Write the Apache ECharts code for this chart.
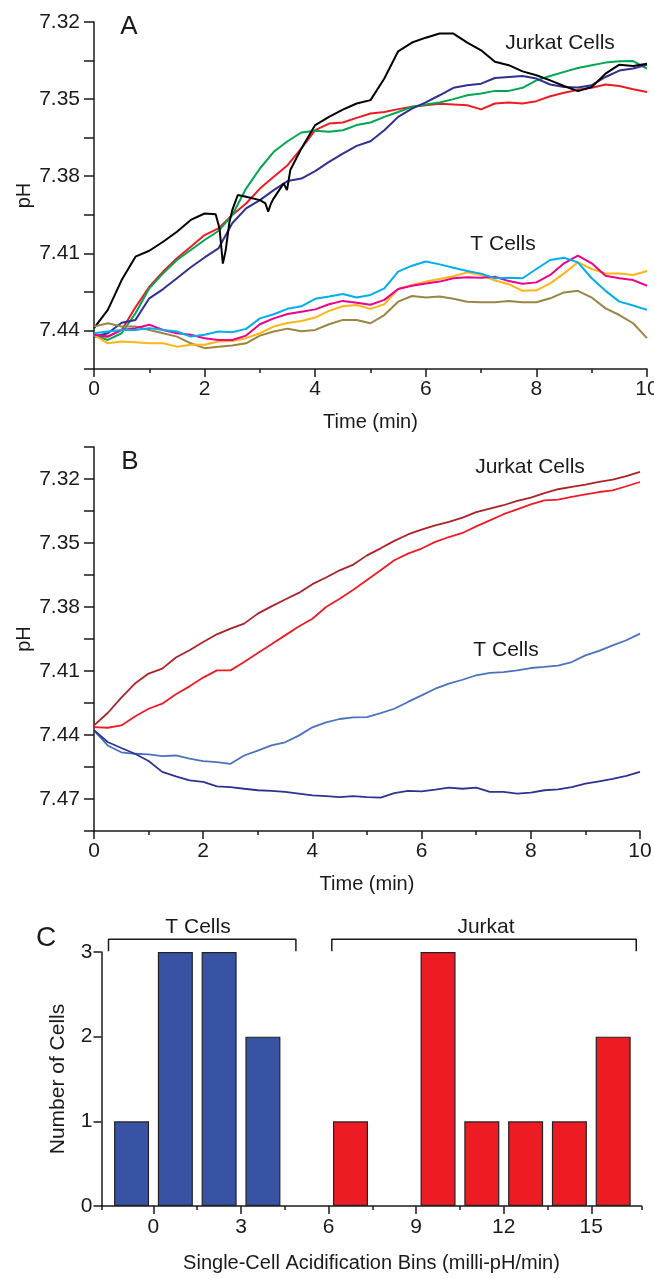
<!DOCTYPE html>
<html>
<head>
<meta charset="utf-8">
<title>Acidification</title>
<script src="https://cdn.jsdelivr.net/npm/echarts@6.0.0/dist/echarts.min.js"></script>
<style>
  html, body { margin: 0; padding: 0; background: #fff; }
  #chart { width: 654px; height: 1279px; }
</style>
</head>
<body>
<div id="chart"></div>
<script>
// time axis (min) shared by most traces
var minutes = [0, 0.25, 0.5, 0.75, 1, 1.25, 1.5, 1.75, 2, 2.25, 2.5, 2.75, 3, 3.25, 3.5, 3.75, 4, 4.25, 4.5, 4.75,
    5, 5.25, 5.5, 5.75, 6, 6.25, 6.5, 6.75, 7, 7.25, 7.5, 7.75, 8, 8.25, 8.5, 8.75, 9, 9.25, 9.5, 9.75, 10];

// panel A - jurkat cells
var blackMinutes = [0, 0.25, 0.5, 0.75, 1, 1.25, 1.5, 1.75, 2, 2.2, 2.27, 2.33, 2.38, 2.45, 2.5, 2.6, 2.75, 3, 3.1, 3.15,
    3.2, 3.25, 3.43, 3.49, 3.55, 3.75, 4, 4.25, 4.5, 4.75, 5, 5.25, 5.5, 5.75, 6, 6.25, 6.5, 6.75, 7, 7.25,
    7.5, 7.75, 8, 8.25, 8.5, 8.75, 9, 9.25, 9.5, 9.75, 10];
var jurkatBlackA = [7.4391, 7.4320, 7.4204, 7.4113, 7.4090, 7.4055, 7.4016, 7.3970, 7.3945, 7.3948, 7.4003, 7.4140, 7.4090, 7.3977, 7.3932, 7.3873, 7.3880, 7.3893, 7.3906, 7.3938,
    7.3906, 7.3886, 7.3828, 7.3854, 7.3776, 7.3692, 7.3601, 7.3569, 7.3541, 7.3517, 7.3504, 7.3420, 7.3314, 7.3280, 7.3261, 7.3245, 7.3245, 7.3280, 7.3310, 7.3355,
    7.3368, 7.3392, 7.3407, 7.3427, 7.3449, 7.3469, 7.3453, 7.3401, 7.3366, 7.3371, 7.3362];
var jurkatRedA = [7.4424, 7.4424, 7.4398, 7.4310, 7.4230, 7.4171, 7.4119, 7.4074, 7.4029, 7.4003, 7.3951, 7.3906, 7.3848, 7.3802, 7.3757, 7.3692, 7.3621, 7.3595, 7.3591, 7.3573,
    7.3556, 7.3550, 7.3539, 7.3530, 7.3524, 7.3518, 7.3521, 7.3524, 7.3540, 7.3517, 7.3513, 7.3517, 7.3508, 7.3489, 7.3475, 7.3464, 7.3456, 7.3443, 7.3449, 7.3462, 7.3472];
var jurkatGreenA = [7.4418, 7.4437, 7.4411, 7.4333, 7.4236, 7.4178, 7.4126, 7.4087, 7.4048, 7.4013, 7.3951, 7.3848, 7.3770, 7.3705, 7.3664, 7.3630, 7.3623, 7.3627, 7.3621, 7.3601,
    7.3591, 7.3569, 7.3550, 7.3530, 7.3521, 7.3513, 7.3500, 7.3485, 7.3478, 7.3468, 7.3468, 7.3456, 7.3427, 7.3410, 7.3394, 7.3379, 7.3368, 7.3358, 7.3353, 7.3352, 7.3381];
var jurkatNavyA = [7.4424, 7.4411, 7.4370, 7.4359, 7.4275, 7.4239, 7.4197, 7.4154, 7.4116, 7.4081, 7.3983, 7.3925, 7.3893, 7.3854, 7.3819, 7.3809, 7.3780, 7.3744, 7.3712, 7.3682,
    7.3664, 7.3621, 7.3569, 7.3537, 7.3513, 7.3485, 7.3456, 7.3446, 7.3440, 7.3418, 7.3414, 7.3410, 7.3420, 7.3443, 7.3453, 7.3455, 7.3446, 7.3414, 7.3389, 7.3381, 7.3366];

// panel A - T cells
var tCyanA = [7.4411, 7.4404, 7.4398, 7.4398, 7.4391, 7.4398, 7.4404, 7.4424, 7.4417, 7.4404, 7.4407, 7.4394, 7.4353, 7.4337, 7.4316, 7.4306, 7.4277, 7.4268, 7.4258, 7.4272,
    7.4262, 7.4236, 7.4171, 7.4148, 7.4132, 7.4143, 7.4156, 7.4169, 7.4179, 7.4197, 7.4195, 7.4197, 7.4161, 7.4126, 7.4117, 7.4135, 7.4197, 7.4246, 7.4288, 7.4303, 7.4320];
var tMagentaA = [7.4417, 7.4424, 7.4398, 7.4391, 7.4378, 7.4398, 7.4411, 7.4417, 7.4430, 7.4437, 7.4437, 7.4420, 7.4376, 7.4353, 7.4336, 7.4327, 7.4318, 7.4298, 7.4285, 7.4292,
    7.4300, 7.4281, 7.4239, 7.4226, 7.4217, 7.4210, 7.4197, 7.4193, 7.4195, 7.4191, 7.4208, 7.4218, 7.4213, 7.4184, 7.4139, 7.4109, 7.4139, 7.4187, 7.4197, 7.4204, 7.4226];
var tYellowA = [7.4417, 7.4450, 7.4443, 7.4446, 7.4450, 7.4450, 7.4463, 7.4456, 7.4456, 7.4443, 7.4441, 7.4430, 7.4411, 7.4385, 7.4371, 7.4363, 7.4350, 7.4324, 7.4306, 7.4301,
    7.4316, 7.4298, 7.4239, 7.4223, 7.4210, 7.4200, 7.4189, 7.4174, 7.4184, 7.4206, 7.4220, 7.4246, 7.4244, 7.4217, 7.4178, 7.4135, 7.4161, 7.4178, 7.4178, 7.4184, 7.4169];
var tOliveA = [7.4385, 7.4372, 7.4385, 7.4385, 7.4398, 7.4411, 7.4424, 7.4450, 7.4469, 7.4463, 7.4459, 7.4450, 7.4420, 7.4404, 7.4393, 7.4403, 7.4398, 7.4376, 7.4359, 7.4359,
    7.4372, 7.4340, 7.4288, 7.4266, 7.4272, 7.4268, 7.4277, 7.4288, 7.4290, 7.4290, 7.4285, 7.4290, 7.4290, 7.4275, 7.4252, 7.4246, 7.4272, 7.4314, 7.4340, 7.4372, 7.4430];

// panel B
var jurkatDarkRedB = [7.4355, 7.4297, 7.4225, 7.4159, 7.4112, 7.4089, 7.4037, 7.4003, 7.3964, 7.3928, 7.3901, 7.3878, 7.3831, 7.3797, 7.3765, 7.3734, 7.3693, 7.3662, 7.3628, 7.3601,
    7.3558, 7.3525, 7.3490, 7.3460, 7.3437, 7.3417, 7.3401, 7.3381, 7.3355, 7.3339, 7.3323, 7.3303, 7.3287, 7.3266, 7.3248, 7.3237, 7.3226, 7.3214, 7.3203, 7.3187, 7.3167];
var jurkatRedB = [7.4363, 7.4366, 7.4355, 7.4313, 7.4277, 7.4253, 7.4209, 7.4172, 7.4131, 7.4097, 7.4097, 7.4058, 7.4016, 7.3975, 7.3933, 7.3891, 7.3855, 7.3800, 7.3761, 7.3719,
    7.3673, 7.3628, 7.3581, 7.3550, 7.3526, 7.3495, 7.3472, 7.3453, 7.3422, 7.3394, 7.3365, 7.3342, 7.3319, 7.3300, 7.3297, 7.3284, 7.3272, 7.3261, 7.3253, 7.3234, 7.3214];
var tLightBlueB = [7.4378, 7.4449, 7.4481, 7.4488, 7.4491, 7.4499, 7.4496, 7.4511, 7.4522, 7.4527, 7.4535, 7.4496, 7.4473, 7.4449, 7.4434, 7.4403, 7.4364, 7.4341, 7.4325, 7.4317,
    7.4316, 7.4297, 7.4277, 7.4245, 7.4214, 7.4183, 7.4159, 7.4141, 7.4120, 7.4109, 7.4105, 7.4097, 7.4086, 7.4081, 7.4075, 7.4058, 7.4027, 7.4006, 7.3980, 7.3956, 7.3925];
var tNavyB = [7.4378, 7.4433, 7.4461, 7.4488, 7.4522, 7.4573, 7.4594, 7.4613, 7.4620, 7.4641, 7.4644, 7.4652, 7.4659, 7.4662, 7.4667, 7.4675, 7.4683, 7.4687, 7.4691, 7.4687,
    7.4691, 7.4694, 7.4672, 7.4662, 7.4664, 7.4656, 7.4647, 7.4652, 7.4647, 7.4667, 7.4667, 7.4675, 7.4670, 7.4659, 7.4655, 7.4644, 7.4628, 7.4617, 7.4606, 7.4592, 7.4573];

// panel C - histogram bins (milli-pH/min) and counts
var tCellBins = [-0.75, 0.75, 2.25, 3.75];
var tCellCounts = [1, 3, 3, 2];
var jurkatBins = [6.75, 9.75, 11.25, 12.75, 14.25, 15.75];
var jurkatCounts = [1, 3, 1, 1, 1, 2];
var binMajorTicks = [0, 3, 6, 9, 12, 15];
var binMinorTicks = [-1.78, 1.5, 4.5, 7.5, 10.5, 13.5, 16.72];
var bracketTCells = [-1.54, 4.88];
var bracketJurkat = [6.11, 16.54];

var FONT = "'Liberation Sans', Arial, sans-serif";
var INK = '#1a1a1a';

function pairs(xs, ys) {
    var out = [];
    for (var i = 0; i < ys.length; i++) out.push([xs[i], ys[i]]);
    return out;
}

function bracket(span) {
    return [[span[0], 3.01], [span[0], 3.15], [span[1], 3.15], [span[1], 3.01]];
}

function phLabels(base, keepOdd, lastK) {
    return function (v) {
        var k = Math.round((v - base) / 0.015);
        if (k > lastK) return '';
        return (k % 2 === (keepOdd ? 1 : 0)) ? v.toFixed(2) : '';
    };
}

function timeAxis(gridIndex) {
    return {
        gridIndex: gridIndex, type: 'value', min: 0, max: 10, interval: 2, position: 'bottom',
        axisLine: { show: true, onZero: false, lineStyle: { color: INK, width: 1.5 } },
        axisTick: { show: true, length: 8, lineStyle: { color: INK, width: 1.5 } },
        minorTick: { show: true, splitNumber: 2, length: 4, lineStyle: { color: INK, width: 1.5 } },
        splitLine: { show: false },
        axisLabel: { fontSize: 21, margin: 10, color: INK, fontFamily: FONT },
        name: 'Time (min)', nameLocation: 'middle', nameGap: 43,
        nameTextStyle: { fontSize: 20, color: INK, fontFamily: FONT }
    };
}

function phAxis(gridIndex, min, max, formatter) {
    return {
        gridIndex: gridIndex, type: 'value', inverse: true, min: min, max: max, interval: 0.015, position: 'left',
        axisLine: { show: true, onZero: false, lineStyle: { color: INK, width: 1.5 } },
        axisTick: { show: true, length: 10, lineStyle: { color: INK, width: 1.5 } },
        splitLine: { show: false },
        axisLabel: { fontSize: 21, margin: 14, color: INK, fontFamily: FONT, formatter: formatter },
        name: 'pH', nameLocation: 'middle', nameGap: 60, nameRotate: 90, nameMoveOverlap: false,
        nameTextStyle: { fontSize: 20, color: INK, fontFamily: FONT }
    };
}

function trace(x, y, xs, ys, color, width) {
    return {
        type: 'line', xAxisIndex: x, yAxisIndex: y, data: pairs(xs, ys),
        symbol: 'none', silent: true,
        lineStyle: { color: color, width: width }
    };
}

function label(text, x, y, size) {
    return {
        type: 'text', x: x, y: y, silent: true,
        style: { text: text, fill: INK, font: size + 'px ' + FONT, align: 'center', verticalAlign: 'middle' }
    };
}

var chart = echarts.init(document.getElementById('chart'));

chart.setOption({
    animation: false,
    backgroundColor: '#fff',
    grid: [
        { left: 94, top: 22, width: 553, height: 347, outerBoundsMode: 'none' },
        { left: 94, top: 447, width: 546, height: 384, outerBoundsMode: 'none' },
        { left: 101.5, top: 952, width: 540, height: 254, outerBoundsMode: 'none' }
    ],
    xAxis: [
        timeAxis(0),
        timeAxis(1),
        {
            gridIndex: 2, type: 'value', min: -1.78, max: 16.72, position: 'bottom',
            axisLine: { show: true, onZero: false, lineStyle: { color: INK, width: 1.5 } },
            axisTick: { show: true, length: 8, customValues: binMajorTicks, lineStyle: { color: INK, width: 1.5 } },
            splitLine: { show: false },
            axisLabel: { fontSize: 21, margin: 11, color: INK, fontFamily: FONT, customValues: binMajorTicks },
            name: 'Single-Cell Acidification Bins (milli-pH/min)', nameLocation: 'middle', nameGap: 47,
            nameTextStyle: { fontSize: 20, color: INK, fontFamily: FONT }
        },
        {
            gridIndex: 2, type: 'value', min: -1.78, max: 16.72, position: 'bottom',
            axisLine: { show: false, onZero: false },
            axisTick: { show: true, length: 4, customValues: binMinorTicks, lineStyle: { color: INK, width: 1.5 } },
            axisLabel: { show: false },
            splitLine: { show: false }
        }
    ],
    yAxis: [
        phAxis(0, 7.32, 7.455, phLabels(7.32, false, 8)),
        phAxis(1, 7.305, 7.485, phLabels(7.305, true, 11)),
        {
            gridIndex: 2, type: 'value', min: 0, max: 3, interval: 1, position: 'left',
            axisLine: { show: true, onZero: false, lineStyle: { color: INK, width: 1.5 } },
            axisTick: { show: true, length: 8, lineStyle: { color: INK, width: 1.5 } },
            splitLine: { show: false },
            axisLabel: { fontSize: 21, margin: 9, color: INK, fontFamily: FONT },
            name: 'Number of Cells', nameLocation: 'middle', nameGap: 33, nameRotate: 90,
            nameTextStyle: { fontSize: 21, color: INK, fontFamily: FONT }
        }
    ],
    series: [
        trace(0, 0, minutes, jurkatRedA, '#ed1c24', 2),
        trace(0, 0, minutes, jurkatGreenA, '#00a651', 2),
        trace(0, 0, minutes, jurkatNavyA, '#2e3192', 2),
        trace(0, 0, blackMinutes, jurkatBlackA, '#000000', 2),
        trace(0, 0, minutes, tOliveA, '#9a8546', 2),
        trace(0, 0, minutes, tYellowA, '#fdb515', 2),
        trace(0, 0, minutes, tMagentaA, '#ec008c', 2),
        trace(0, 0, minutes, tCyanA, '#00aeef', 2),

        trace(1, 1, minutes, jurkatDarkRedB, '#aa2328', 1.8),
        trace(1, 1, minutes, jurkatRedB, '#ee1c25', 1.8),
        trace(1, 1, minutes, tLightBlueB, '#4a72c0', 1.8),
        trace(1, 1, minutes, tNavyB, '#2b3490', 1.8),

        {
            type: 'bar', xAxisIndex: 2, yAxisIndex: 2, barWidth: 35, barGap: '-100%', silent: true,
            data: pairs(tCellBins, tCellCounts),
            itemStyle: { color: '#3953a4', borderColor: '#222', borderWidth: 1.2 }
        },
        {
            type: 'bar', xAxisIndex: 2, yAxisIndex: 2, barWidth: 35, barGap: '-100%', silent: true,
            data: pairs(jurkatBins, jurkatCounts),
            itemStyle: { color: '#ed1c24', borderColor: '#222', borderWidth: 1.2 }
        },
        {
            type: 'line', xAxisIndex: 2, yAxisIndex: 2, data: bracket(bracketTCells), clip: false,
            symbol: 'none', silent: true, lineStyle: { color: INK, width: 1.5 }
        },
        {
            type: 'line', xAxisIndex: 2, yAxisIndex: 2, data: bracket(bracketJurkat), clip: false,
            symbol: 'none', silent: true, lineStyle: { color: INK, width: 1.5 }
        }
    ],
    graphic: [
        label('A', 129, 27, 26),
        label('Jurkat Cells', 560, 43, 21),
        label('T Cells', 503, 244, 21),
        label('B', 130, 462, 26),
        label('Jurkat Cells', 530, 467, 21),
        label('T Cells', 506, 650, 21),
        label('C', 46, 938, 28),
        label('T Cells', 198, 927, 21),
        label('Jurkat', 486, 927, 21)
    ]
});
</script>
</body>
</html>
